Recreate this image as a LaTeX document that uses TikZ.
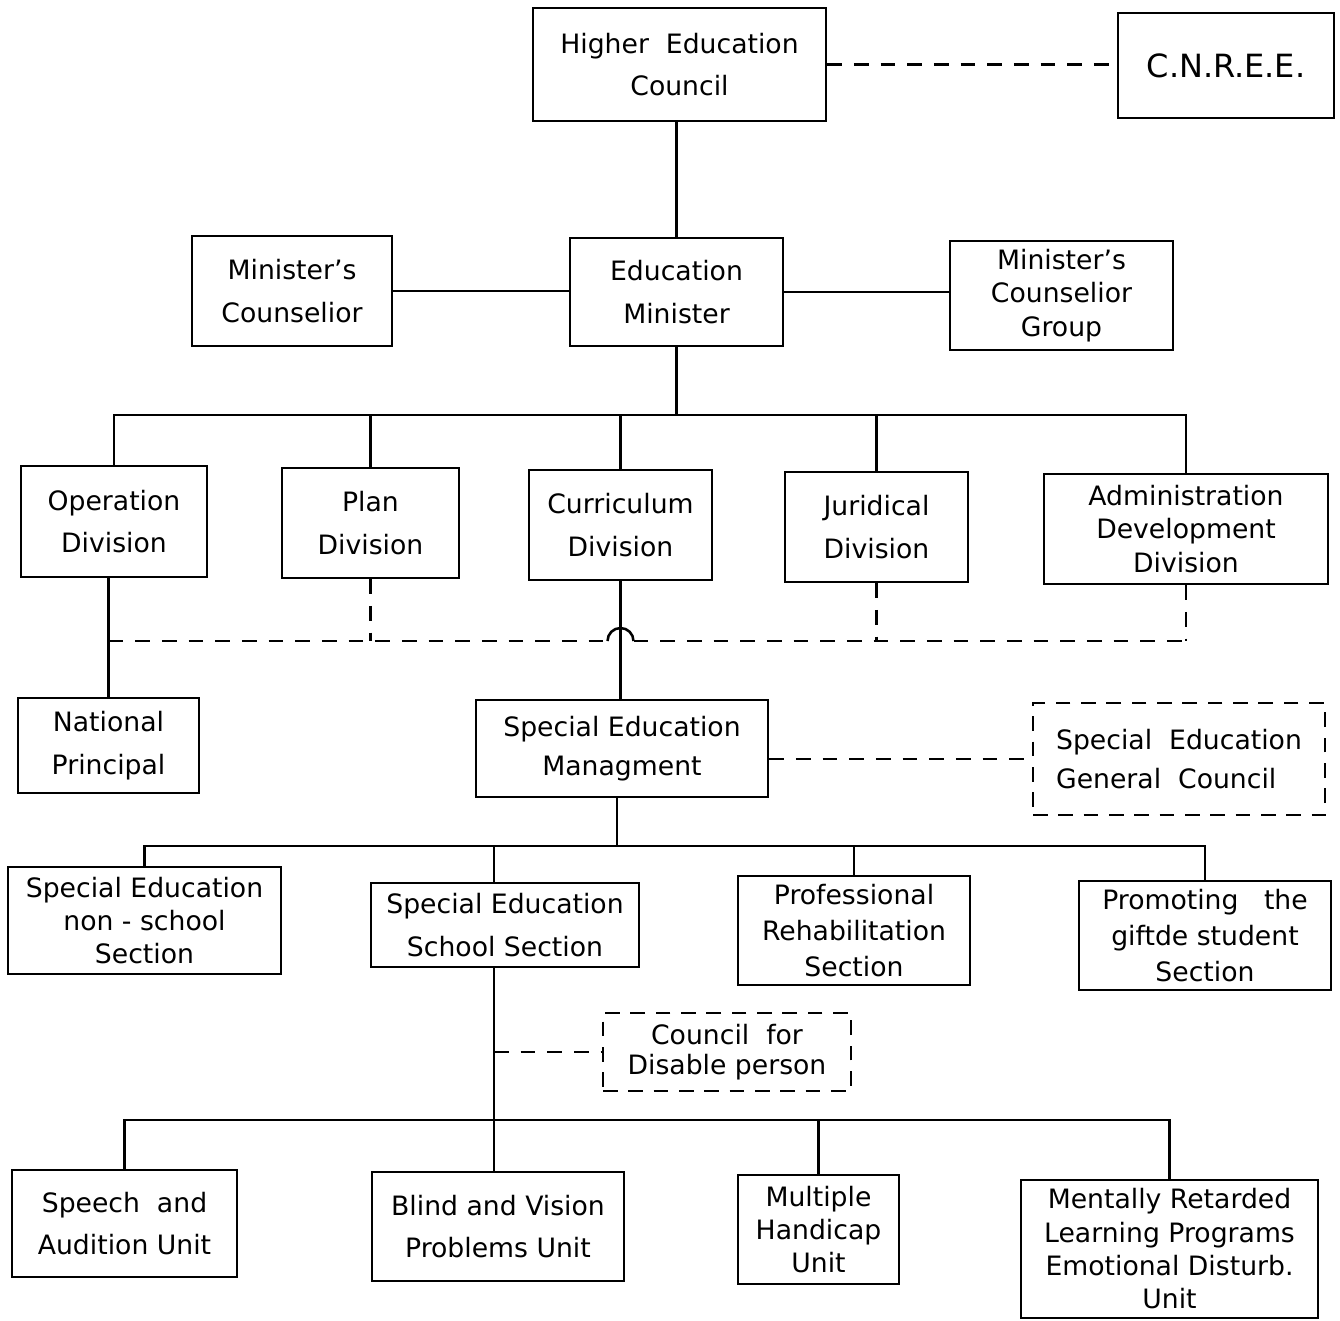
\documentclass[tikz,border=0pt]{standalone}
\usepackage{fontspec}
\setmainfont{DejaVu Sans}
\usetikzlibrary{calc}
% box given by its two corners in pixel units: [options]{name}{x1}{y1}{x2}{y2}{text}
\newcommand\orgbox[7][]{%
  \node[box,#1,minimum width={(#5-#3)*0.75pt},minimum height={(#6-#4)*0.75pt}]
    (#2) at ({(#3+#5)/2},{(#4+#6)/2}) {#7};}
\begin{document}
\begin{tikzpicture}[x=0.75pt,y=-0.75pt,line width=1.9pt,
  box/.style={draw,line width=1.9pt,inner sep=0pt,align=center,
    font=\fontsize{20}{32}\selectfont},
  tworow/.style={font=\fontsize{20}{32}\selectfont},
  threerow/.style={font=\fontsize{20}{25}\selectfont},
  dashbox/.style={dash pattern=on 11pt off 8pt},
  dline/.style={dash pattern=on 11pt off 9pt},
]
\useasboundingbox (0,0) rectangle (1340,1321);

% top level
\orgbox{hec}{533}{8}{826}{121}{Higher\ \ Education\\Council}
\orgbox[font=\fontsize{24}{30}\selectfont]{cn}{1118}{13}{1334}{118}{C.N.R.E.E.}
\orgbox{em}{570}{238}{783}{346}{Education\\Minister}
\orgbox{mcl}{192}{236}{392}{346}{Minister's\\Counselior}
\orgbox[threerow]{mcg}{950}{241}{1173}{350}{Minister's\\Counselior\\Group}

% divisions
\orgbox{opd}{21}{466}{207}{577}{Operation\\Division}
\orgbox{pld}{282}{468}{459}{578}{Plan\\Division}
\orgbox{cud}{529}{470}{712}{580}{Curriculum\\Division}
\orgbox{jud}{785}{472}{968}{582}{Juridical\\Division}
\orgbox[threerow]{add}{1044}{474}{1328}{584}{Administration\\Development\\Division}

% management level
\orgbox{np}{18}{698}{199}{793}{National\\Principal}
\orgbox[font=\fontsize{20}{29}\selectfont]{sem}{476}{700}{768}{797}{Special Education\\Managment}
\orgbox[dashbox,align=left,font=\fontsize{20}{29}\selectfont]{segc}{1033}{703}{1325}{815}{Special\ \ Education\\General\ \ Council}

% sections
\orgbox[threerow]{nss}{8}{867}{281}{974}{Special Education\\non - school\\Section}
\orgbox{sss}{371}{883}{639}{967}{Special Education\\School Section}
\orgbox[font=\fontsize{20}{27}\selectfont]{prs}{738}{876}{970}{985}{Professional\\Rehabilitation\\Section}
\orgbox[font=\fontsize{20}{27}\selectfont]{pgs}{1079}{881}{1331}{990}{Promoting\ \ \ the\\giftde student\\Section}
\orgbox[dashbox,font=\fontsize{20}{23}\selectfont]{cdp}{603}{1013}{851}{1091}{Council\ \ for\\Disable person}

% units
\orgbox{sau}{12}{1170}{237}{1277}{Speech\ \ and\\Audition Unit}
\orgbox{bvu}{372}{1172}{624}{1281}{Blind and Vision\\Problems Unit}
\orgbox[threerow]{mhu}{738}{1175}{899}{1284}{Multiple\\Handicap\\Unit}
\orgbox[threerow]{mru}{1021}{1180}{1318}{1318}{Mentally Retarded\\Learning Programs\\Emotional Disturb.\\Unit}

% bus levels
\coordinate (busA) at (674,415);
\coordinate (dl) at (0,641);
\coordinate (busB) at (617,846);
\coordinate (busC) at (494,1120);

% top connections
\draw (em.north) -- (em.north |- hec.south);
\draw[dline] (hec.east) -- (cn.west |- hec.east);
\draw (mcl.east) -- (em.west |- mcl.east);
\draw (em.east) -- (mcg.west |- em.east);

% minister to divisions
\draw (em.south) -- (em.south |- busA);
\draw (opd.north) -- (opd.north |- busA) -- (add.north |- busA) -- (add.north);
\draw (pld.north) -- (pld.north |- busA);
\draw (cud.north) -- (cud.north |- busA);
\draw (jud.north) -- (jud.north |- busA);

% solid links through the dashed level
\draw (np.north) -- (np.north |- opd.south);
\draw (cud.south) -- (sem.north -| cud.south);

% dashed coordination line with a jump over the curriculum link
\draw[dline] (np.north |- dl) -- ($(cud.south |- dl)+(-13,0)$);
\draw ($(cud.south |- dl)+(-13,0)$) arc[start angle=180,end angle=0,radius=9.75pt];
\draw[dline] ($(cud.south |- dl)+(13,0)$) -- (add.south |- dl);
\draw[dline] (pld.south) -- (pld.south |- dl);
\draw[dline] (jud.south) -- (jud.south |- dl);
\draw[dline] (add.south) -- (add.south |- dl);

% management to council and sections
\draw[dline] (sem.east |- segc.west) -- (segc.west);
\draw (sem.south -| busB) -- (busB);
\draw (nss.north) -- (nss.north |- busB) -- (pgs.north |- busB) -- (pgs.north);
\draw (prs.north) -- (prs.north |- busB);
\draw (sss.north -| busC) -- (busB -| busC);

% school section to units
\draw (sss.south -| busC) -- (bvu.north -| busC);
\draw[dline] (cdp.west -| busC) -- (cdp.west);
\draw (sau.north) -- (sau.north |- busC) -- (mru.north |- busC) -- (mru.north);
\draw (mhu.north) -- (mhu.north |- busC);
\end{tikzpicture}
\end{document}
